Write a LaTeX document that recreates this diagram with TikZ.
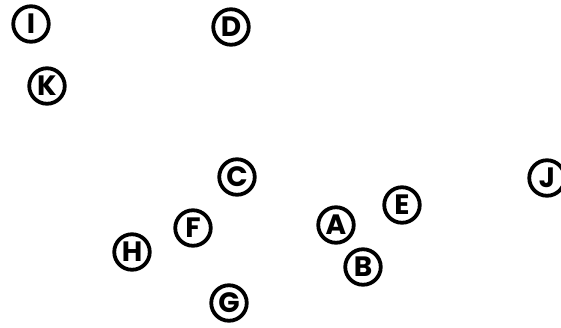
\documentclass[tikz,border=0pt]{standalone}
\usepackage{fontspec}
\setmainfont{Poppins}
\usepackage{tikz}
\usetikzlibrary{positioning}

\begin{document}
\begin{tikzpicture}[
    x=1pt, y=-1pt,
    spot/.style={draw, circle, line width=3.8pt, minimum size=35.5pt, inner sep=0pt,
      font=\fontsize{28}{28}\selectfont\bfseries},
]
\useasboundingbox (0,0) rectangle (561,327);

% Points
\node[spot] (i) at (31, 24) {I};
\node[spot] (d) at (231, 27) {D};
\node[spot] (k) at (47, 86) {K};
\node[spot] (c) at (237, 177) {C};
\node[spot] (j) at (547, 178) {J};
\node[spot] (e) at (402, 205) {E};
\node[spot] (a) at (336, 225) {A};
\node[spot] (f) at (193, 228) {F};
\node[spot] (h) at (132, 252) {H};
\node[spot] (b) at (363, 267) {B};
\node[spot] (g) at (229, 303) {G};
\end{tikzpicture}
\end{document}
